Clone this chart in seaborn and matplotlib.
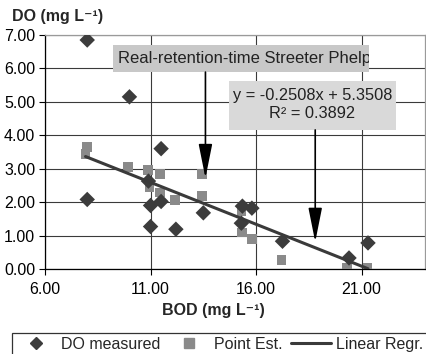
import matplotlib
matplotlib.use("Agg")
import matplotlib.pyplot as plt
import seaborn as sns
import numpy as np
import pandas as pd
from matplotlib.patches import Rectangle
from matplotlib.lines import Line2D

# Data
bod_measured = [8.0, 10.0, 11.5, 8.0, 10.9, 11.0, 11.5, 11.0, 12.2, 13.5, 15.35, 15.8, 15.3, 17.25, 20.4, 21.3]
do_measured = [6.85, 5.15, 3.6, 2.08, 2.63, 1.9, 2.02, 1.27, 1.19, 1.68, 1.88, 1.82, 1.37, 0.83, 0.33, 0.78]

bod_est = [8.0, 7.92, 9.95, 10.87, 11.45, 13.44, 10.95, 11.45, 12.16, 13.44, 15.31, 15.35, 15.79, 17.2, 20.32, 21.28]
do_est = [3.64, 3.45, 3.05, 2.95, 2.84, 2.84, 2.45, 2.29, 2.06, 2.19, 1.72, 1.09, 0.89, 0.27, 0.03, 0.03]

slope = -0.2508
intercept = 5.3508
r2 = 0.3892

x_ticks = [6.0, 11.0, 16.0, 21.0]
y_ticks = [0, 1, 2, 3, 4, 5, 6, 7]

sns.set_style("white")
plt.rcParams['font.family'] = ['Liberation Sans', 'DejaVu Sans']

FS = 11.5
W, H = 426, 354
fig = plt.figure(figsize=(W / 100, H / 100), dpi=100)
ax = fig.add_axes([45 / W, (H - 269) / H, 380 / W, 234 / H])

df_m = pd.DataFrame({"BOD": bod_measured, "DO": do_measured})
df_e = pd.DataFrame({"BOD": bod_est, "DO": do_est})
xmin, xmax = min(bod_est + bod_measured), max(bod_est + bod_measured)
df_l = pd.DataFrame({"BOD": [xmin, xmax], "DO": [slope * xmin + intercept, slope * xmax + intercept]})

sns.scatterplot(data=df_e, x="BOD", y="DO", ax=ax, marker="s", s=50, color="#8a8a8a",
                edgecolor="none", zorder=3)
sns.scatterplot(data=df_m, x="BOD", y="DO", ax=ax, marker="D", s=62, color="#3c3c3c",
                edgecolor="none", zorder=4)
sns.lineplot(data=df_l, x="BOD", y="DO", ax=ax, color="#3a3a3a", lw=2.2, zorder=5)

ax.set_xlim(6, 24)
ax.set_ylim(0, 7)
ax.set_xticks(x_ticks)
ax.set_xticklabels([f"{v:.2f}" for v in x_ticks])
ax.set_yticks(y_ticks)
ax.set_yticklabels([f"{v:.2f}" for v in y_ticks])
ax.tick_params(axis="both", labelsize=FS, colors="black", length=4, width=0.8, direction="out",
               left=True, bottom=True)
ax.tick_params(axis="y", pad=3)
ax.tick_params(axis="x", pad=5)
ax.grid(True, color="#3a3a3a", lw=0.8)
ax.set_axisbelow(True)
for s in ["left", "bottom"]:
    ax.spines[s].set_color("black")
    ax.spines[s].set_linewidth(0.9)
for s in ["top", "right"]:
    ax.spines[s].set_color("#9a9a9a")
    ax.spines[s].set_linewidth(0.9)
ax.set_xlabel("")
ax.set_ylabel("")

fig.text(12 / W, 1 - 17 / H, "DO (mg L⁻¹)", fontsize=FS, fontweight="bold", va="center", ha="left")
fig.text(213 / W, 1 - 311 / H, "BOD (mg L⁻¹)", fontsize=FS, fontweight="bold", va="center", ha="center")

# annotation boxes
def px2ax(px, py):
    return (px - 45) / 380, (269 - py) / 234

x0, y1 = px2ax(112.5, 45)
x1, y0 = px2ax(369, 72)
r1 = Rectangle((x0, y0), x1 - x0, y1 - y0, transform=ax.transAxes, facecolor="#c8c8c8",
               edgecolor="none", zorder=6)
ax.add_patch(r1)
t1 = ax.text(px2ax(118, 0)[0], (y0 + y1) / 2, "Real-retention-time Streeter Phelps", transform=ax.transAxes,
             fontsize=12, va="center", ha="left", zorder=7, color="#222222")
t1.set_clip_on(True)
t1.set_clip_path(r1)

x0b, y1b = px2ax(229, 81)
x1b, y0b = px2ax(396, 130)
r2b = Rectangle((x0b, y0b), x1b - x0b, y1b - y0b, transform=ax.transAxes, facecolor="#d9d9d9",
                edgecolor="none", zorder=6)
ax.add_patch(r2b)
ax.text((x0b + x1b) / 2, (y0b + y1b) / 2 + 0.005, f"y = {slope:.4f}x + {intercept:.4f}\nR² = {r2:.4f}",
        transform=ax.transAxes, fontsize=11.8, va="center", ha="center", zorder=7,
        linespacing=1.2, color="#222222")

arrow_kw = dict(arrowstyle="-|>,head_length=1.5,head_width=0.3", color="black", lw=1.2,
                shrinkA=0, shrinkB=0, mutation_scale=14)
ax.annotate("", xy=(13.6, 2.72), xytext=(13.6, 5.89), arrowprops=arrow_kw, zorder=8)
ax.annotate("", xy=(18.8, 0.81), xytext=(18.8, 4.16), arrowprops=arrow_kw, zorder=8)

handles = [
    Line2D([], [], marker="D", color="#3c3c3c", ls="none", markersize=6.5),
    Line2D([], [], marker="s", color="#8a8a8a", ls="none", markersize=6.5),
    Line2D([], [], color="#3a3a3a", lw=2.2),
]
leg = fig.legend(handles, ["DO measured", "Point Est.", "Linear Regr."], loc="upper left",
                 bbox_to_anchor=(12 / W, 1 - 333 / H), ncol=3, fontsize=FS, frameon=True,
                 fancybox=False, handlelength=2.5, handletextpad=0.3, columnspacing=0.55,
                 borderpad=0.25, borderaxespad=0)
leg.get_frame().set_edgecolor("black")
leg.get_frame().set_linewidth(0.9)

fig.savefig("out.png", dpi=100)
